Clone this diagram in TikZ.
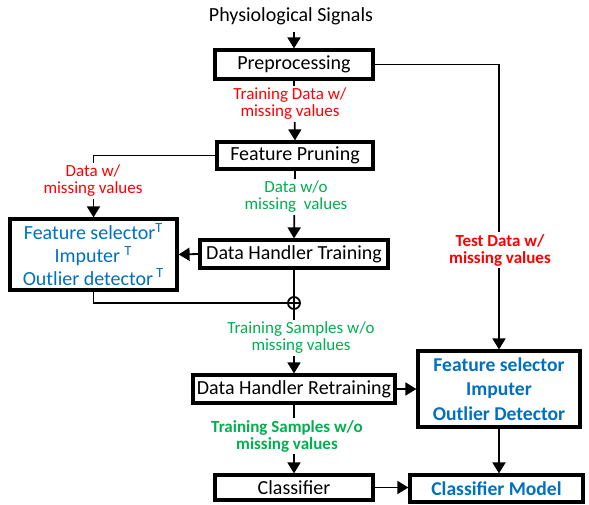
\documentclass[tikz,border=0pt]{standalone}
\usepackage{fontspec}
\setmainfont{Carlito}
\usepackage{tikz}
\usetikzlibrary{arrows.meta}
\definecolor{offred}{RGB}{255,0,0}
\definecolor{offgreen}{RGB}{0,176,80}
\definecolor{offblue}{RGB}{0,112,192}

\begin{document}
\begin{tikzpicture}[x=0.5pt,y=-0.5pt]
        %
        % `block' is used for the process boxes.
        % `redlabel', `greenlabel' are the data labels on the arrows.
        % `flow' is used for all connectors with a head.
        \tikzstyle{block} = [draw,line width=1.6pt,inner sep=0pt,font=\fontsize{10}{12}\selectfont]
        \tikzstyle{redlabel} = [fill=white,text=offred,align=center,inner sep=1pt,font=\fontsize{8.5}{8.5}\selectfont]
        \tikzstyle{greenlabel} = [fill=white,text=offgreen,align=center,inner sep=1pt,font=\fontsize{8.5}{8.5}\selectfont]
        \tikzstyle{flow} = [line width=0.9pt,-{Triangle[length=5.5pt,width=6.5pt]}]
        \tikzstyle{plain} = [line width=0.9pt]
        \useasboundingbox (0,0) rectangle (589,504);
        %
        % Input
        \node (sig) at (291,16.5) {\fontsize{10}{12}\selectfont Physiological Signals};
        %
        % Left column
        \node[block,minimum width=79pt,minimum height=14.5pt] (pre) at (294,64.5) {Preprocessing};
        \node[block,minimum width=78pt,minimum height=13.5pt] (prune) at (295,155.5) {Feature Pruning};
        \node[block,minimum width=94pt,minimum height=14pt] (dht) at (294,254) {Data Handler Training};
        \node[draw,circle,line width=0.9pt,minimum size=6pt,inner sep=0pt] (plus) at (294,303) {};
        \draw[line width=0.6pt] (plus.north) -- (plus.south) (plus.west) -- (plus.east);
        \node[block,minimum width=101pt,minimum height=14pt] (dhr) at (294,389) {Data Handler Retraining};
        \node[block,minimum width=79pt,minimum height=12.5pt] (cls) at (294,487.5) {Classifier};
        %
        % Trained blocks
        \node[block,minimum width=83.5pt,minimum height=35.5pt,text=offblue,align=center,
              font=\fontsize{10}{11.3}\selectfont] (fsT) at (93.5,254.5)
              {Feature selector\textsuperscript{T}\\Imputer \textsuperscript{T}\\Outlier detector\,\textsuperscript{T}};
        \node[block,minimum width=81pt,minimum height=38pt,text=offblue,align=center,
              font=\fontsize{9.8}{12.3}\selectfont\bfseries] (fs) at (499,389)
              {Feature selector\\Imputer\\Outlier Detector};
        \node[block,minimum width=86.5pt,minimum height=13.5pt,text=offblue,
              font=\fontsize{9.8}{12}\selectfont\bfseries] (model) at (496.5,488.5) {Classifier Model};
        %
        % Connectors
        \draw[flow] (pre.north |- sig.south) -- (pre.north);
        \draw[flow] (pre.south) -- (prune.north);
        \draw[flow] (pre.east) -| (fs.north);
        \draw[flow] (prune.west) -| (fsT.north);
        \draw[flow] (prune.south) -- (dht.north);
        \draw[flow] (dht.west) -- (fsT.east);
        \draw[plain] (fsT.south) |- (plus.west);
        \draw[plain] (dht.south) -- (plus.north);
        \draw[flow] (plus.south) -- (dhr.north);
        \draw[flow] (dhr.east) -- (dhr.east -| fs.west);
        \draw[flow] (dhr.south) -- (cls.north);
        \draw[flow] (fs.south) -- (fs.south |- model.north);
        \draw[flow] (cls.east) -- (cls.east -| model.west);
        %
        % Labels on the connectors
        \node[redlabel] (trainlbl) at (290,104) {Training Data w/\\missing values};
        \node[redlabel] (misslbl) at (93,181) {Data w/\\missing values};
        \node[greenlabel] (dwolbl) at (296,197) {Data w/o\\missing~~values};
        \node[greenlabel] (samplbl) at (301,338) {Training Samples w/o\\missing values};
        \node[greenlabel,font=\fontsize{8.5}{8.5}\selectfont\bfseries] (samplbl2) at (287,436) {Training Samples w/o\\missing values};
        \node[redlabel,font=\fontsize{8.5}{8.5}\selectfont\bfseries] (testlbl) at (500,250) {Test Data w/\\missing values};
        %
\end{tikzpicture}
\end{document}
